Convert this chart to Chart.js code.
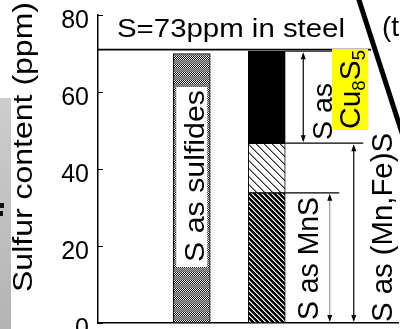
<!DOCTYPE html>
<html><head><meta charset="utf-8">
<script src="https://cdn.jsdelivr.net/npm/chart.js@4/dist/chart.umd.min.js"></script>
<style>html,body{margin:0;padding:0;background:#fff;overflow:hidden}canvas{display:block}</style>
</head><body>
<canvas id="c" width="400" height="329"></canvas>
<script>
// ---- data ----
const categories = ['', '', 'S as sulfides', '', 'S in steel', '', '', ''];
const sulfidesValues = [null, null, 70.0, null, null, null, null, null];
const mnsValues      = [null, null, null, null, 33.8, null, null, null];
const mnFeValues     = [null, null, null, null, 12.9, null, null, null];
const cu8s5Values    = [null, null, null, null, 23.9, null, null, null];
const steelTotal     = [71.0];
const yTickValues    = [0, 20, 40, 60, 80];

const FONT = '"Liberation Sans", Arial, sans-serif';
Chart.defaults.font.family = FONT;

const canvas = document.getElementById('c');
const mainCtx = canvas.getContext('2d');

function makePattern(w, h, fn) {
  const t = document.createElement('canvas');
  t.width = w; t.height = h;
  const g = t.getContext('2d');
  const img = g.createImageData(w, h);
  for (let y = 0; y < h; y++) for (let x = 0; x < w; x++) {
    const v = fn(x, y), i = (y * w + x) * 4;
    img.data[i] = img.data[i + 1] = img.data[i + 2] = v; img.data[i + 3] = 255;
  }
  g.putImageData(img, 0, 0);
  return mainCtx.createPattern(t, 'repeat');
}
const sulfidePattern = makePattern(2, 8, (x, y) => y < 4 ? ((x + y) % 2 ? 20 : 235) : ((x + y) % 2 ? 95 : 160));
const mnFePattern = makePattern(8, 8, (x, y) => { const d = ((x - y) % 8 + 8) % 8; return d === 0 ? 40 : d === 1 ? 150 : 255; });
const mnsPattern = makePattern(5, 5, (x, y) => { const d = ((x - y) % 5 + 5) % 5; return d < 3 ? 0 : d === 3 ? 255 : 140; });

function drawText(ctx, str, x, y, size, len, rotated) {
  ctx.save();
  ctx.font = size + 'px ' + FONT;
  const w = ctx.measureText(str).width;
  ctx.translate(x, y);
  if (rotated) ctx.rotate(-Math.PI / 2);
  if (len) ctx.scale(len / w, 1);
  ctx.textAlign = 'left'; ctx.textBaseline = 'alphabetic'; ctx.fillStyle = '#000';
  ctx.fillText(str, 0, 0);
  ctx.restore();
}
function arrowHead(ctx, x, y, dir) {
  ctx.beginPath();
  ctx.moveTo(x, y);
  ctx.lineTo(x - 2.5, y - dir * 7);
  ctx.lineTo(x + 2.5, y - dir * 7);
  ctx.closePath(); ctx.fillStyle = '#000'; ctx.fill();
}
function vArrow(ctx, x, y1, y2, color) {
  ctx.save();
  ctx.strokeStyle = color; ctx.lineWidth = 1.2;
  ctx.beginPath(); ctx.moveTo(x, y1 + 3); ctx.lineTo(x, y2 - 3); ctx.stroke();
  arrowHead(ctx, x, y1 + 1, -1);
  arrowHead(ctx, x, y2 - 1, 1);
  ctx.restore();
}
function hLine(ctx, x1, x2, y, w) {
  ctx.save(); ctx.strokeStyle = '#000'; ctx.lineWidth = w || 1;
  ctx.beginPath(); ctx.moveTo(x1, y); ctx.lineTo(x2, y); ctx.stroke(); ctx.restore();
}

const overlay = {
  id: 'overlay',
  beforeDraw(chart) {
    const ctx = chart.ctx;
    ctx.save(); ctx.fillStyle = '#fff'; ctx.fillRect(0, 0, chart.width, chart.height);
    const g = ctx.createLinearGradient(0, 98, 0, 329);
    g.addColorStop(0, '#cdcdcd'); g.addColorStop(1, '#b4b4b4');
    ctx.fillStyle = g; ctx.fillRect(0, 98, 11, 231);
    ctx.fillStyle = '#111'; ctx.fillRect(0, 203, 4, 5); ctx.fillRect(0, 211, 3, 5);
    ctx.restore();
  },
  afterDraw(chart) {
    const ctx = chart.ctx, ys = chart.scales.y, area = chart.chartArea;
    ctx.save();
    ctx.strokeStyle = '#000'; ctx.lineWidth = 1;
    yTickValues.forEach(v => { const y = Math.round(ys.getPixelForValue(v)) + 0.5; ctx.beginPath(); ctx.moveTo(area.left, y); ctx.lineTo(area.left + 5, y); ctx.stroke(); });
    drawText(ctx, 'Sulfur content (ppm)', 32, 292, 27, 290, true);
    const yS = ys.getPixelForValue(steelTotal[0]);
    hLine(ctx, area.left, 371, yS, 1.6);
    drawText(ctx, 'S=73ppm in steel', 117, 37, 26, 228, false);

    const sb = chart.getDatasetMeta(0).data[2];
    ctx.fillStyle = '#fff';
    ctx.fillRect(sb.x - sb.width / 2 + 3, 87, sb.width - 6, 180);
    drawText(ctx, 'S as sulfides', sb.x + 12, 262, 28, 172, true);

    const idx = 4;
    const bar = chart.getDatasetMeta(3).data[idx];
    const right = bar.x + bar.width / 2;
    const vMn = mnsValues[idx], vFe = mnsValues[idx] + mnFeValues[idx], vTop = vFe + cu8s5Values[idx];
    const yMn = ys.getPixelForValue(vMn), yFe = ys.getPixelForValue(vFe), yTop = ys.getPixelForValue(vTop), y0 = ys.getPixelForValue(0);
    hLine(ctx, right, right + 54, yTop, 1);
    hLine(ctx, right, right + 78, yFe, 1.3);
    hLine(ctx, right, right + 54, yMn, 1.3);
    vArrow(ctx, right + 18, yTop, yFe, '#000');
    vArrow(ctx, right + 44.5, yMn, y0, '#999');
    vArrow(ctx, right + 68.5, yFe, y0, '#000');

    drawText(ctx, 'S as MnS', 318, 320, 29, 123, true);
    drawText(ctx, 'S as (Mn,Fe)S', 392, 322, 29, 189, true);
    drawText(ctx, 'S as', 332, 140, 28, 57, true);
    ctx.fillStyle = '#ffff00';
    ctx.fillRect(332, 49, 36, 81);
    const parts = [['C', 29, 0], ['u', 29, 0], ['8', 18, 5], ['S', 29, 0], ['5', 18, 5]];
    let tot = 0;
    parts.forEach(p => { ctx.font = p[1] + 'px ' + FONT; p.push(ctx.measureText(p[0]).width); tot += p[3]; });
    const sc = 79 / tot;
    ctx.save();
    ctx.translate(360, 129); ctx.rotate(-Math.PI / 2); ctx.scale(sc, 1);
    ctx.fillStyle = '#000'; ctx.textBaseline = 'alphabetic'; ctx.textAlign = 'left';
    let px = 0;
    parts.forEach(p => { ctx.font = p[1] + 'px ' + FONT; ctx.fillText(p[0], px, p[2]); px += p[3]; });
    ctx.restore();

    ctx.strokeStyle = '#000'; ctx.lineWidth = 5;
    ctx.beginPath(); ctx.moveTo(358, -3); ctx.lineTo(402, 133); ctx.stroke();
    drawText(ctx, '(t', 382, 36, 28, 0, false);
    ctx.restore();
  }
};

new Chart(canvas, {
  type: 'bar',
  data: {
    labels: categories,
    datasets: [
      { label: 'S as sulfides', data: sulfidesValues, backgroundColor: sulfidePattern },
      { label: 'S as MnS', data: mnsValues, backgroundColor: mnsPattern },
      { label: 'S as (Mn,Fe)S', data: mnFeValues, backgroundColor: mnFePattern },
      { label: 'S as Cu8S5', data: cu8s5Values, backgroundColor: '#000' }
    ]
  },
  options: {
    responsive: false, animation: false, devicePixelRatio: 1,
    layout: { padding: { left: 0, right: 2, top: 15, bottom: 6 } },
    plugins: { legend: { display: false }, tooltip: { enabled: false } },
    datasets: { bar: { barThickness: 37, borderColor: '#000', borderWidth: 1, borderSkipped: false } },
    scales: {
      x: {
        stacked: true, offset: true,
        grid: { display: false, drawTicks: false },
        border: { display: true, color: '#000', width: 1.5 },
        ticks: { display: false },
        afterFit(s) { s.height = 0; s.paddingLeft = 0; s.paddingRight = 0; }
      },
      y: {
        stacked: true, min: 0, max: 80,
        afterBuildTicks(s) { s.ticks = yTickValues.map(v => ({ value: v })); },
        ticks: { color: '#000', font: { size: 25 }, padding: 9, labelOffset: 6 },
        grid: { display: false, drawTicks: false },
        border: { display: true, color: '#000', width: 1.5 },
        afterFit(s) { s.width = 98; s.paddingTop = 0; s.paddingBottom = 0; }
      }
    }
  },
  plugins: [overlay]
});
</script>
</body></html>
